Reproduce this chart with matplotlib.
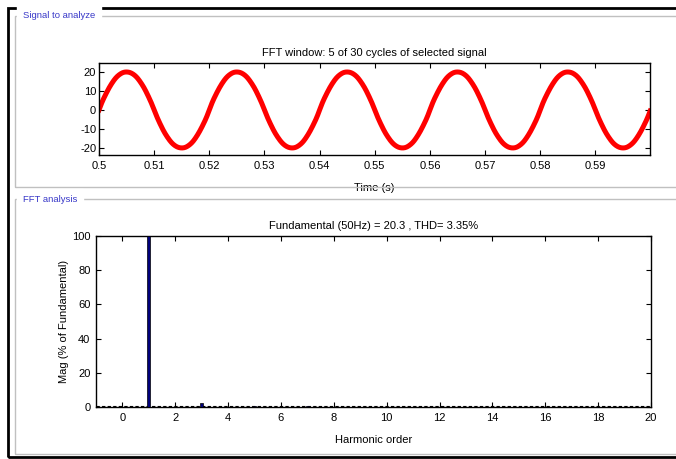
"""
powergui FFT analysis screen: time signal window and harmonic spectrum
"""

import numpy as np
import matplotlib.pyplot as plt
from matplotlib.patches import Rectangle

plt.rcParams['font.family'] = ['Liberation Sans', 'DejaVu Sans']
plt.rcParams['axes.unicode_minus'] = False

# spectrum (% of fundamental)
HARMONIC_ORDER = [0, 1, 2, 3, 4, 5, 6, 7, 8, 9, 10, 11, 12, 13, 14, 15, 16, 17, 18, 19, 20]
HARMONIC_MAG = [0.0, 100.0, 0.1, 2.6, 0.1, 0.5, 0.1, 0.4, 0.1, 0.2, 0.1,
                0.1, 0.0, 0.1, 0.0, 0.1, 0.0, 0.0, 0.0, 0.0, 0.0]
FUNDAMENTAL = 20.3   # peak value shown in the title
F0 = 50              # Hz
T_START = 0.5
T_END = 0.6
TITLE_TOP = 'FFT window: 5 of 30 cycles of selected signal'
TITLE_BOTTOM = 'Fundamental (50Hz) = 20.3 , THD= 3.35%'

W, H = 676, 459
fig = plt.figure(figsize=(W / 100, H / 100), dpi=100)
fig.patch.set_facecolor('white')


def px(x0, y0, x1, y1):
    # pixel box -> figure fraction [left, bottom, width, height]
    return [x0 / W, 1 - y1 / H, (x1 - x0) / W, (y1 - y0) / H]


# outer frame and the two group boxes
fig.add_artist(Rectangle((8 / W, 1 - 456.5 / H), 2, (456.5 - 8) / H,
                         transform=fig.transFigure, fill=False, lw=2, ec='black'))
for y0, y1, label in [(16, 187, 'Signal to analyze'), (199, 454, 'FFT analysis')]:
    fig.add_artist(Rectangle((15 / W, 1 - y1 / H), 2, (y1 - y0) / H,
                             transform=fig.transFigure, fill=False, lw=1, ec='#c0c0c0'))
    fig.text(23 / W, 1 - y0 / H, label, fontsize=6.8, color='#3838c8',
             va='center', ha='left', backgroundcolor='white')


def style(ax):
    ax.tick_params(direction='in', length=3.5, width=0.8, top=True, right=True,
                   labelsize=8, pad=4)
    for s in ax.spines.values():
        s.set_linewidth(1.0)


# time signal rebuilt from the spectrum
t = np.linspace(T_START, T_END, 4000)
sig = np.zeros_like(t)
for k, m in zip(HARMONIC_ORDER, HARMONIC_MAG):
    sig += FUNDAMENTAL * m / 100 * np.sin(2 * np.pi * k * F0 * (t - T_START))

ax1 = fig.add_axes(px(99, 63, 650, 155))
ax1.plot(t, sig, color='red', lw=3.6)
ax1.set_xlim(T_START, T_END - 0.0001)
ax1.set_ylim(-23.5, 24.5)
ax1.set_xticks(np.arange(0.5, 0.595, 0.01))
ax1.set_xticklabels(['0.5', '0.51', '0.52', '0.53', '0.54', '0.55', '0.56', '0.57', '0.58', '0.59'])
ax1.set_yticks([-20, -10, 0, 10, 20])
ax1.set_title(TITLE_TOP, fontsize=8, pad=5)
ax1.set_xlabel('Time (s)', fontsize=8, labelpad=9)
style(ax1)
ax1.tick_params(axis='y', pad=2)

# harmonic bars
ax2 = fig.add_axes(px(96, 236, 651, 407))
ax2.bar(HARMONIC_ORDER, HARMONIC_MAG, width=0.12, color='#00007a',
        edgecolor='black', lw=0.5, zorder=3)
ax2.axhline(0.8, color='black', lw=0.8, ls=(0, (3, 2)), zorder=2)
ax2.set_xlim(-1, 20)
ax2.set_ylim(0, 100)
ax2.set_xticks(range(0, 21, 2))
ax2.set_yticks(range(0, 101, 20))
ax2.set_title(TITLE_BOTTOM, fontsize=8, pad=5)
ax2.set_xlabel('Harmonic order', fontsize=8, labelpad=9)
ax2.set_ylabel('Mag (% of Fundamental)', fontsize=8, labelpad=2)
style(ax2)

fig.savefig('out.png', dpi=100)
